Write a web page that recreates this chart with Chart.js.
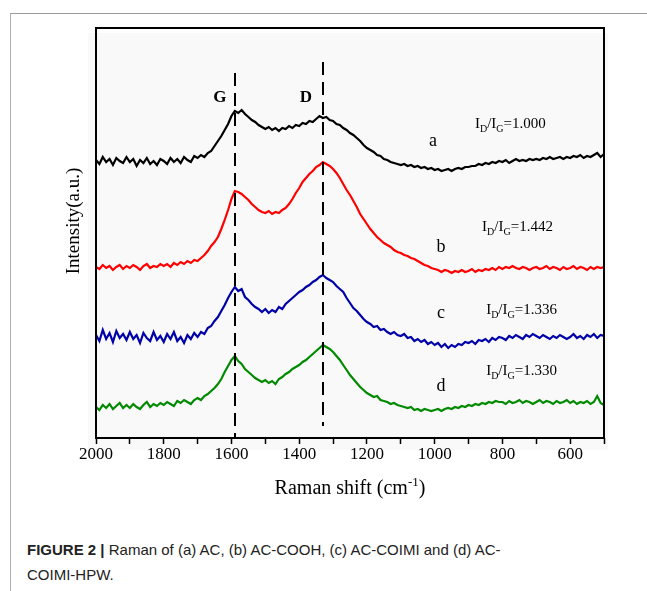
<!DOCTYPE html>
<html>
<head>
<meta charset="utf-8">
<script src="https://cdn.jsdelivr.net/npm/chart.js@4.4.1/dist/chart.umd.min.js"></script>
<style>
  html, body { margin: 0; padding: 0; background: #fff; }
  body { width: 647px; height: 591px; position: relative; overflow: hidden; }
  #frame { position: absolute; left: 10px; top: 13px; right: 0; bottom: 0;
           border-top: 1px solid #9a9a9a; border-left: 1px solid #b0b0b0; }
  #wrap { position: absolute; left: 0; top: 0; width: 647px; height: 520px; }
  #caption { position: absolute; left: 27px; top: 537px; width: 600px;
             font-family: "Liberation Sans", Arial, sans-serif; font-size: 15px;
             line-height: 25px; color: #222; }
  #caption b { font-weight: bold; }
</style>
</head>
<body>
<div id="frame"></div>
<div id="wrap"><canvas id="raman"></canvas></div>
<div id="caption"><b>FIGURE 2 |</b> Raman of (a) AC, (b) AC-COOH, (c) AC-COIMI and (d) AC-<br>COIMI-HPW.</div>
<script>
/* ---------- DATA ---------- */
// wavenumber grid, 2000 -> 500 cm-1, every 10
const wavenumbers = Array.from({ length: 151 }, (_, i) => 2000 - i * 10);

// (a) AC
const seriesA = [
  278,274,281,276,279,273,280,277,275,281,
  276,279,272,278,275,280,274,277,273,279,
  277,274,280,276,279,275,281,278,276,282,
  280,283,281,285,287,292,297,302,308,314,
  322,327,325,328,324,321,318,316,313,311,
  309,311,308,310,307,310,309,312,310,313,
  312,315,314,317,316,319,322,320,321,318,
  317,314,313,310,308,305,303,300,297,293,
  290,288,286,283,282,279,278,276,275,274,
  273,274,272,273,271,272,270,271,269,270,
  268,269,267,268,269,267,269,270,269,271,
  271,272,272,274,273,275,274,276,275,277,
  276,278,275,277,279,277,278,277,279,278,
  279,278,280,279,281,279,280,281,279,281,
  280,282,281,283,280,282,281,283,285,281,
  284
];
// (b) AC-COOH
const seriesB = [
  171,169,173,170,172,168,171,173,169,172,
  170,173,171,168,172,174,170,172,171,174,
  172,174,171,175,173,176,174,177,175,178,
  177,180,183,187,192,196,201,209,218,228,
  239,247,246,244,241,238,234,231,228,226,
  225,227,224,226,225,228,230,234,239,245,
  250,256,260,264,267,271,273,276,274,272,
  269,265,260,254,248,243,237,231,224,219,
  214,209,205,201,198,195,193,191,188,186,
  185,183,182,180,179,177,175,173,172,170,
  169,168,166,168,167,165,167,166,168,166,
  167,169,166,168,167,169,168,170,168,171,
  169,171,170,172,170,169,171,170,168,170,
  171,169,170,172,169,171,170,168,171,169,
  170,172,169,171,170,168,171,169,171,170,
  171
];
// (c) AC-COIMI
const seriesC = [
  103,97,108,99,105,96,107,100,104,98,
  106,99,103,95,105,100,97,106,98,102,
  96,104,99,106,97,101,95,103,99,105,
  101,106,104,110,112,117,121,127,133,140,
  146,151,147,149,141,138,134,131,129,126,
  129,125,128,126,131,129,134,137,140,143,
  146,148,151,153,156,158,161,163,160,158,
  156,152,149,146,140,135,130,127,123,119,
  116,114,111,112,108,109,106,104,106,103,
  102,104,100,101,97,99,96,98,94,96,
  93,95,91,94,90,93,91,94,93,96,
  95,97,94,98,97,99,96,100,98,101,
  100,98,102,100,103,101,99,103,101,104,
  102,100,103,101,99,102,100,103,101,99,
  101,104,100,102,99,103,101,104,100,103,
  102
];
// (d) AC-COIMI-HPW
const seriesD = [
  31,28,33,30,34,29,32,35,30,33,
  30,34,31,29,33,36,31,34,32,35,
  33,36,34,32,37,35,38,36,34,38,
  40,38,42,44,47,50,54,59,66,72,
  78,82,77,74,69,66,63,60,58,56,
  58,55,57,54,59,61,64,66,69,71,
  73,76,78,81,84,87,90,93,91,89,
  86,82,78,73,68,63,59,55,51,48,
  45,43,41,42,38,37,36,34,35,33,
  32,31,30,31,28,29,27,29,28,27,
  28,29,27,29,30,29,31,30,32,31,
  33,32,34,33,35,34,36,35,37,36,
  36,34,37,35,36,38,35,37,36,34,
  36,38,35,37,36,34,37,35,36,38,
  35,37,34,36,35,37,34,36,42,35,
  33
];

const seriesNames = ["a", "b", "c", "d"];
const seriesColors = ["#000000", "#ff0000", "#0000a8", "#008a00"];
const ratios = ["1.000", "1.442", "1.336", "1.330"];

// peak positions (cm-1) for the dashed guide lines
const peakNames = ["G", "D"];
const peakShift = [1590, 1330];

const xTicks = [2000, 1800, 1600, 1400, 1200, 1000, 800, 600];

/* ---------- LAYOUT (data coords) ---------- */
const letterPos = [[1005, 297], [981, 191], [981, 125], [981, 52]];
const ratioPos = [[881, 315], [860, 212], [848, 129], [848, 68]];
const peakLabelPos = [[1634, 340], [1380, 340]];
const guideRange = [[365, 1], [376, 12]];

const SERIF = "'Liberation Serif', 'Times New Roman', serif";

function toPoints(vals) {
  return vals.map((v, i) => ({ x: wavenumbers[i], y: v }));
}

function drawRatio(ctx, x, y, txt) {
  const parts = [["I", 15, 0], ["D", 10, 4], ["/", 15, 0], ["I", 15, 0], ["G", 10, 4], ["=" + txt, 15, 0]];
  let cx = x;
  ctx.textAlign = "left";
  ctx.textBaseline = "alphabetic";
  parts.forEach(p => {
    ctx.font = p[1] + "px " + SERIF;
    ctx.fillText(p[0], cx, y + 5 + p[2]);
    cx += ctx.measureText(p[0]).width;
  });
}

const decor = {
  id: "decor",
  beforeDraw(chart) {
    const ctx = chart.ctx;
    ctx.save();
    ctx.fillStyle = "#f9f9f9";
    ctx.fillRect(88, 33, 520, 417);
    ctx.restore();
  },
  afterDatasetsDraw(chart) {
    const ctx = chart.ctx;
    const xs = chart.scales.x, ys = chart.scales.y;
    const a = chart.chartArea;
    ctx.save();

    // dashed guides at G and D
    ctx.strokeStyle = "#000";
    ctx.lineWidth = 2;
    ctx.setLineDash([13, 7]);
    peakShift.forEach((w, i) => {
      const px = Math.round(xs.getPixelForValue(w));
      ctx.beginPath();
      ctx.moveTo(px, ys.getPixelForValue(guideRange[i][0]));
      ctx.lineTo(px, ys.getPixelForValue(guideRange[i][1]));
      ctx.stroke();
    });
    ctx.setLineDash([]);

    // box
    ctx.lineWidth = 2;
    ctx.strokeRect(a.left, a.top, a.right - a.left, a.bottom - a.top);

    ctx.fillStyle = "#000";
    // peak labels
    ctx.font = "bold 17px " + SERIF;
    ctx.textAlign = "center";
    ctx.textBaseline = "middle";
    peakNames.forEach((n, i) => {
      ctx.fillText(n, xs.getPixelForValue(peakLabelPos[i][0]), ys.getPixelForValue(peakLabelPos[i][1]));
    });

    // series letters + ratios
    seriesNames.forEach((n, i) => {
      ctx.font = "18px " + SERIF;
      ctx.textAlign = "center";
      ctx.textBaseline = "middle";
      ctx.fillText(n, xs.getPixelForValue(letterPos[i][0]), ys.getPixelForValue(letterPos[i][1]));
      drawRatio(ctx, xs.getPixelForValue(ratioPos[i][0]), ys.getPixelForValue(ratioPos[i][1]), ratios[i]);
    });

    // axis titles
    ctx.font = "20px " + SERIF;
    ctx.textBaseline = "alphabetic";
    ctx.textAlign = "left";
    const t1 = "Raman shift (cm", t2 = "-1", t3 = ")";
    const w1 = ctx.measureText(t1).width, w3 = ctx.measureText(t3).width;
    ctx.font = "13px " + SERIF;
    const w2 = ctx.measureText(t2).width;
    let tx = (a.left + a.right) / 2 - (w1 + w2 + w3) / 2;
    const ty = 494;
    ctx.font = "20px " + SERIF;
    ctx.fillText(t1, tx, ty);
    ctx.font = "13px " + SERIF;
    ctx.fillText(t2, tx + w1, ty - 8);
    ctx.font = "20px " + SERIF;
    ctx.fillText(t3, tx + w1 + w2, ty);

    ctx.translate(74, 221);
    ctx.rotate(-Math.PI / 2);
    ctx.font = "19px " + SERIF;
    ctx.textAlign = "center";
    ctx.textBaseline = "middle";
    ctx.fillText("Intensity(a.u.)", 0, 0);
    ctx.restore();
  }
};

const datasets = [seriesA, seriesB, seriesC, seriesD].map((s, i) => ({
  label: seriesNames[i],
  data: toPoints(s),
  borderColor: seriesColors[i],
  borderWidth: 2.2,
  pointRadius: 0,
  tension: 0,
  fill: false
}));

new Chart(document.getElementById("raman"), {
  type: "line",
  data: { datasets },
  options: {
    responsive: true,
    maintainAspectRatio: false,
    animation: false,
    layout: { padding: { left: 0, right: 43, top: 28, bottom: 0 } },
    plugins: { legend: { display: false }, tooltip: { enabled: false } },
    scales: {
      x: {
        type: "linear",
        min: 500,
        max: 2000,
        reverse: true,
        afterFit: s => { s.height = 82; },
        afterBuildTicks: s => {
          const t = [];
          for (let v = 2000; v >= 500; v -= 100) t.push({ value: v });
          s.ticks = t;
        },
        border: { display: false },
        grid: { display: true, drawOnChartArea: false, color: "#000", tickLength: 6, tickWidth: 1.5 },
        ticks: {
          color: "#000",
          padding: 0,
          maxRotation: 0,
          autoSkip: false,
          font: { family: SERIF, size: 17 },
          callback: v => (xTicks.includes(v) ? String(v) : "")
        }
      },
      y: {
        min: 0,
        max: 410,
        afterFit: s => { s.width = 96; },
        border: { display: false },
        grid: { display: false },
        ticks: { display: false }
      }
    }
  },
  plugins: [decor]
});
</script>
</body>
</html>
